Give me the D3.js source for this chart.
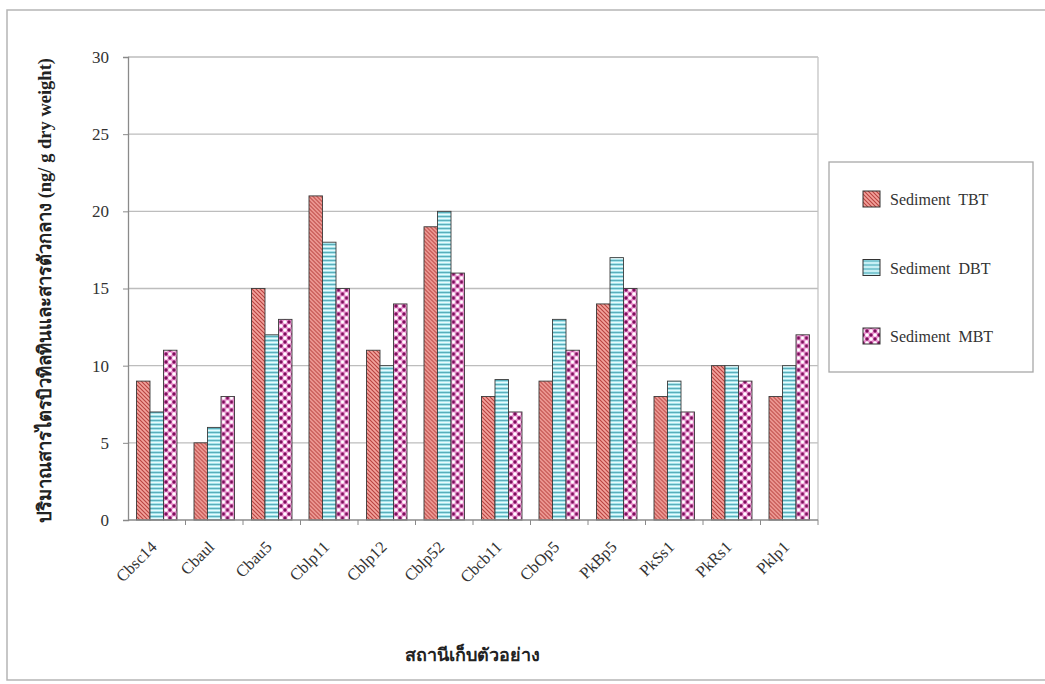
<!DOCTYPE html>
<html>
<head>
<meta charset="utf-8">
<script src="https://cdn.jsdelivr.net/npm/d3@7"></script>
<style>
  body { margin: 0; background: #fff; }
  svg { display: block; }
</style>
</head>
<body>
<script>
var stations = ["Cbsc14", "Cbaul", "Cbau5", "Cblp11", "Cblp12", "Cblp52", "Cbcb11", "CbOp5", "PkBp5", "PkSs1", "PkRs1", "Pklp1"];
var seriesNames = ["Sediment  TBT", "Sediment  DBT", "Sediment  MBT"];
var tbt = [9, 5, 15, 21, 11, 19, 8, 9, 14, 8, 10, 8];
var dbt = [7, 6, 12, 18, 10, 20, 9.1, 13, 17, 9, 10, 10];
var mbt = [11, 8, 13, 15, 14, 16, 7, 11, 15, 7, 9, 12];
var yTicks = [0, 5, 10, 15, 20, 25, 30];

var seriesValues = [tbt, dbt, mbt];
var patternIds = ["pTBT", "pDBT", "pMBT"];

var W = 1045, H = 684;
var plot = {left: 128, right: 818, top: 57, bottom: 520};

var svg = d3.select("body").append("svg").attr("width", W).attr("height", H);

// patterns for the bars
var defs = svg.append("defs");

var p1 = defs.append("pattern").attr("id", "pTBT").attr("patternUnits", "userSpaceOnUse")
  .attr("width", 4).attr("height", 4);
p1.append("rect").attr("width", 4).attr("height", 4).attr("fill", "#f3a39d");
p1.append("path").attr("d", "M-1,-1 L5,5 M-1,3 L1,5 M3,-1 L5,1")
  .attr("stroke", "#b8423f").attr("stroke-width", 1.1);

var p2 = defs.append("pattern").attr("id", "pDBT").attr("patternUnits", "userSpaceOnUse")
  .attr("width", 4).attr("height", 4);
p2.append("rect").attr("width", 4).attr("height", 4).attr("fill", "#a6e3ea");
p2.append("rect").attr("y", 0).attr("width", 4).attr("height", 1).attr("fill", "#5aaebb");
p2.append("rect").attr("y", 2).attr("width", 4).attr("height", 1).attr("fill", "#e8fbfd");

var p3 = defs.append("pattern").attr("id", "pMBT").attr("patternUnits", "userSpaceOnUse")
  .attr("width", 8).attr("height", 8);
p3.append("rect").attr("width", 8).attr("height", 8).attr("fill", "#ec8fd0");
p3.append("circle").attr("cx", 2).attr("cy", 2).attr("r", 1.8).attr("fill", "#ffffff");
p3.append("circle").attr("cx", 6).attr("cy", 6).attr("r", 1.8).attr("fill", "#ffffff");
p3.append("circle").attr("cx", 6).attr("cy", 2).attr("r", 1.7).attr("fill", "#7d0f5c");
p3.append("circle").attr("cx", 2).attr("cy", 6).attr("r", 1.7).attr("fill", "#7d0f5c");

// outer frame
svg.append("rect").attr("x", 7).attr("y", 10).attr("width", W).attr("height", 670)
  .attr("fill", "none").attr("stroke", "#b5b5b5").attr("stroke-width", 1.5);

var x = d3.scaleBand().domain(stations).range([plot.left, plot.right]).paddingInner(0).paddingOuter(0);
var inner = d3.scaleBand().domain([0, 1, 2]).range([0, x.bandwidth()]).paddingOuter(0.63).paddingInner(0);
var y = d3.scaleLinear().domain([0, 30]).range([plot.bottom, plot.top]);

// gridlines
svg.append("g").selectAll("line").data(yTicks.filter(function(d){ return d > 0; }))
  .enter().append("line")
  .attr("x1", plot.left).attr("x2", plot.right)
  .attr("y1", function(d){ return y(d); }).attr("y2", function(d){ return y(d); })
  .attr("stroke", "#bdbdbd").attr("stroke-width", 1.3);

// plot area right edge
svg.append("line").attr("x1", plot.right).attr("x2", plot.right).attr("y1", plot.top).attr("y2", plot.bottom)
  .attr("stroke", "#c4c4c4").attr("stroke-width", 1.3);

// bars
var groups = svg.append("g").selectAll("g")
  .data(stations).enter().append("g")
  .attr("transform", function(d){ return "translate(" + x(d) + ",0)"; });

groups.selectAll("rect")
  .data(function(d, i){ return seriesValues.map(function(s, k){ return {k: k, v: s[i]}; }); })
  .enter().append("rect")
  .attr("x", function(d){ return inner(d.k); })
  .attr("width", inner.bandwidth())
  .attr("y", function(d){ return y(d.v); })
  .attr("height", function(d){ return y(0) - y(d.v); })
  .attr("fill", function(d){ return "url(#" + patternIds[d.k] + ")"; })
  .attr("stroke", "#3a3a3a").attr("stroke-width", 0.9);

// y axis
var yAxis = svg.append("g").attr("transform", "translate(" + plot.left + ",0)")
  .call(d3.axisLeft(y).tickValues(yTicks).tickSize(5).tickPadding(14));
yAxis.select(".domain").attr("stroke", "#8a8a8a").attr("stroke-width", 1.3);
yAxis.selectAll(".tick line").attr("stroke", "#8a8a8a");
yAxis.selectAll("text").attr("font-family", "'Liberation Serif', serif").attr("font-size", 17).attr("fill", "#333");

// x axis
var xAxisG = svg.append("g").attr("transform", "translate(0," + plot.bottom + ")");
xAxisG.append("line").attr("x1", plot.left).attr("x2", plot.right).attr("y1", 0).attr("y2", 0)
  .attr("stroke", "#8a8a8a").attr("stroke-width", 1.3);
xAxisG.selectAll("line.tk").data(stations).enter().append("line").attr("class", "tk")
  .attr("x1", function(d){ return x(d) + x.bandwidth(); }).attr("x2", function(d){ return x(d) + x.bandwidth(); })
  .attr("y1", 0).attr("y2", 5).attr("stroke", "#8a8a8a");
xAxisG.selectAll("text").data(stations).enter().append("text")
  .attr("transform", function(d){ return "translate(" + (x(d) + x.bandwidth() / 2 + 1) + ",28) rotate(-45)"; })
  .attr("text-anchor", "end")
  .attr("font-family", "'Liberation Serif', serif").attr("font-size", 16.5).attr("fill", "#333")
  .text(function(d){ return d; });

// axis titles
svg.append("text")
  .attr("transform", "translate(51," + ((plot.top + plot.bottom) / 2 + 2) + ") rotate(-90)")
  .attr("text-anchor", "middle")
  .attr("font-family", "'Liberation Serif', 'Noto Sans', serif").attr("font-weight", "bold")
  .attr("font-size", 18.5).attr("fill", "#222")
  .text("ปริมาณสารไตรบิวทิลทินและสารตัวกลาง (ng/ g dry weight)");

svg.append("text")
  .attr("x", 472).attr("y", 661)
  .attr("text-anchor", "middle")
  .attr("font-family", "'Liberation Serif', 'Noto Sans', serif").attr("font-weight", "bold")
  .attr("font-size", 18).attr("fill", "#222")
  .text("สถานีเก็บตัวอย่าง");

// legend
var legend = svg.append("g").attr("transform", "translate(829,162)");
legend.append("rect").attr("width", 204).attr("height", 210)
  .attr("fill", "#fff").attr("stroke", "#a8a8a8").attr("stroke-width", 1.3);
var ly = d3.scalePoint().domain([0, 1, 2]).range([38, 175]);
var items = legend.selectAll("g.item").data(seriesNames).enter().append("g").attr("class", "item")
  .attr("transform", function(d, i){ return "translate(0," + ly(i) + ")"; });
items.append("rect").attr("x", 34).attr("y", -9).attr("width", 17).attr("height", 16)
  .attr("fill", function(d, i){ return "url(#" + patternIds[i] + ")"; })
  .attr("stroke", "#333").attr("stroke-width", 1);
items.append("text").attr("x", 61).attr("y", 5)
  .attr("font-family", "'Liberation Serif', serif").attr("font-size", 16).attr("fill", "#333")
  .attr("xml:space", "preserve").style("white-space", "pre")
  .text(function(d){ return d; });
</script>
</body>
</html>
